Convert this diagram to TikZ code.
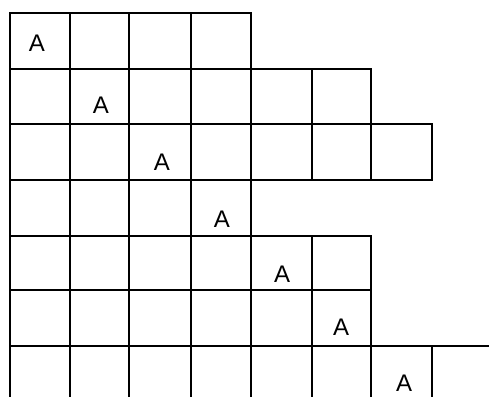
\documentclass[tikz,border=0pt]{standalone}
\usepackage{fontspec}
\setmainfont{Liberation Sans}
\tikzset{
  cell/.style={draw=black, line width=2.2pt},
  letter/.style={inner sep=0pt, anchor=base, font=\fontsize{24}{24}\selectfont}
}
\begin{document}
\begin{tikzpicture}[x=1pt,y=-1pt]
\useasboundingbox (0,0) rectangle (489,396);
\fill[white] (0,0) rectangle (489,396);
\clip (0,0) rectangle (489,396);
% column boundaries
\def\xs{{10,70,129,191,251,312,371,432,520}}
\def\ys{{13,69,124,180,236,290,346,420}}
% row r (0-based) : number of cells
\foreach \r/\n in {0/4,1/6,2/7,3/4,4/6,5/6,6/8}{
  \foreach \c in {1,...,\n}{
    \pgfmathsetmacro{\xa}{\xs[\c-1]}
    \pgfmathsetmacro{\xb}{\xs[\c]}
    \pgfmathsetmacro{\ya}{\ys[\r]}
    \pgfmathsetmacro{\yb}{\ys[\r+1]}
    \draw[cell] (\xa,\ya) rectangle (\xb,\yb);
  }
}
\node[letter] (a1) at (37,52) {A};
\node[letter] (a2) at (101,113) {A};
\node[letter] (a3) at (162,170) {A};
\node[letter] (a4) at (222,227) {A};
\node[letter] (a5) at (282,282) {A};
\node[letter] (a6) at (341,335) {A};
\node[letter] (a7) at (404,391) {A};
\end{tikzpicture}
\end{document}
